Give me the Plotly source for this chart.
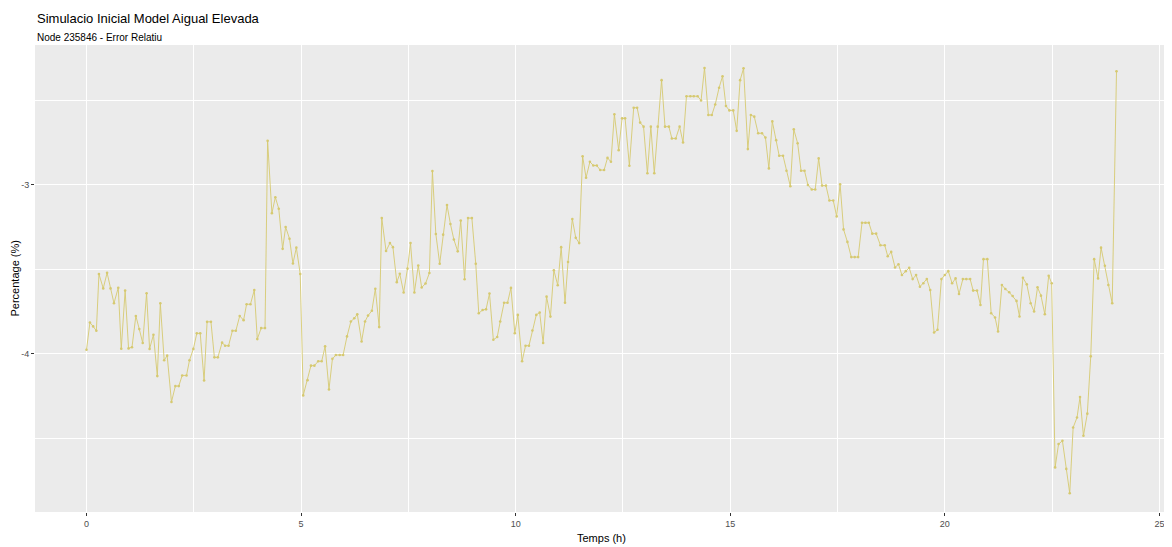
import plotly.graph_objects as go

# Time (h) and relative error (%)
temps = [
    0.00, 0.08, 0.155, 0.23, 0.29, 0.39, 0.48, 0.56, 0.64, 0.74, 0.81, 0.90, 0.98, 1.06, 1.15, 1.23,
    1.31, 1.40, 1.47, 1.56, 1.65, 1.72, 1.81, 1.88, 1.98, 2.07, 2.15, 2.23, 2.33, 2.40, 2.49, 2.57,
    2.65, 2.74, 2.81, 2.90, 2.98, 3.06, 3.16, 3.23, 3.31, 3.40, 3.48, 3.57, 3.66, 3.73, 3.82, 3.91,
    3.98, 4.07, 4.16, 4.22, 4.32, 4.40, 4.48, 4.57, 4.64, 4.73, 4.81, 4.89, 4.98, 5.05, 5.15, 5.23,
    5.31, 5.40, 5.48, 5.56, 5.65, 5.73, 5.81, 5.90, 5.98,
    6.07, 6.16, 6.24, 6.31, 6.41, 6.49, 6.56, 6.65, 6.73, 6.82, 6.88, 6.98, 7.07, 7.14, 7.23, 7.30,
    7.39, 7.48, 7.55, 7.64, 7.73, 7.81, 7.90, 7.99, 8.06, 8.14, 8.23, 8.31, 8.40, 8.48, 8.56, 8.65,
    8.72, 8.81, 8.89, 8.98, 9.07, 9.14, 9.23, 9.31, 9.39, 9.48, 9.57, 9.64, 9.73, 9.81, 9.89, 9.98,
    10.05, 10.15, 10.23, 10.31, 10.39, 10.48, 10.56, 10.64, 10.72, 10.81, 10.89, 10.98, 11.06, 11.15,
    11.22, 11.32, 11.40, 11.48, 11.56, 11.64, 11.73, 11.81, 11.89, 11.97, 12.06, 12.14, 12.22,
    12.30, 12.40, 12.48, 12.55, 12.65, 12.75, 12.83, 12.90, 12.98, 13.07, 13.15, 13.23, 13.31, 13.40,
    13.48, 13.57, 13.64, 13.73, 13.82, 13.90, 13.98, 14.07, 14.15, 14.24, 14.32, 14.40, 14.49, 14.57,
    14.65, 14.74, 14.82, 14.90, 14.98, 15.07, 15.15, 15.23, 15.31, 15.41, 15.48, 15.56, 15.65, 15.74,
    15.82, 15.90, 15.98, 16.07, 16.14, 16.23, 16.31, 16.40, 16.48, 16.57, 16.65, 16.73, 16.81, 16.90,
    16.98, 17.06, 17.14, 17.23, 17.31, 17.40, 17.48, 17.56, 17.64, 17.73, 17.82, 17.90, 17.98, 18.07,
    18.15, 18.23, 18.31, 18.40,
    18.50, 18.60, 18.67, 18.75, 18.84, 18.92, 19.00, 19.09, 19.17, 19.25, 19.33, 19.42, 19.50, 19.58,
    19.66, 19.75, 19.83, 19.92, 20.00, 20.08, 20.17, 20.25, 20.33, 20.42, 20.50, 20.59, 20.66, 20.75,
    20.83, 20.90, 20.99, 21.08, 21.17, 21.24, 21.33, 21.41, 21.50, 21.58, 21.67, 21.74, 21.82, 21.91,
    22.00, 22.08, 22.16, 22.24, 22.33, 22.42, 22.49, 22.57, 22.65, 22.74, 22.83, 22.91, 22.99, 23.08,
    23.15, 23.23, 23.32, 23.40, 23.48, 23.57, 23.64, 23.73, 23.81, 23.90, 24.00,
]

error_relatiu = [
    -3.975, -3.814, -3.837, -3.863, -3.527, -3.612, -3.520, -3.612, -3.700, -3.608, -3.969, -3.625,
    -3.967, -3.960, -3.775, -3.853, -3.935, -3.641, -3.970, -3.886, -4.131, -3.700, -4.037, -4.010,
    -4.284, -4.190, -4.190, -4.127, -4.127, -4.037, -3.970, -3.878, -3.878, -4.157, -3.810, -3.810,
    -4.020, -4.020, -3.933, -3.951, -3.951, -3.863, -3.863, -3.775, -3.800, -3.706, -3.706, -3.622,
    -3.912, -3.847, -3.847, -2.739, -3.167, -3.073, -3.141, -3.378, -3.249, -3.318, -3.465, -3.371,
    -3.527, -4.245, -4.155, -4.069, -4.069, -4.043, -4.043, -3.955, -4.210, -4.029, -4.006, -4.006,
    -4.006,
    -3.896, -3.808, -3.789, -3.765, -3.926, -3.808, -3.773, -3.744, -3.614, -3.841, -3.196, -3.391,
    -3.344, -3.368, -3.575, -3.526, -3.636, -3.495, -3.344, -3.636, -3.477, -3.607, -3.583, -3.521,
    -2.918, -3.290, -3.466, -3.294, -3.119, -3.231, -3.323, -3.393, -3.211, -3.558, -3.196, -3.196,
    -3.466, -3.759, -3.740, -3.736, -3.642, -3.916, -3.900, -3.808, -3.697, -3.697, -3.609, -3.877,
    -3.769, -4.043, -3.951, -3.951, -3.861, -3.769, -3.755, -3.935, -3.661, -3.779, -3.505, -3.593,
    -3.368, -3.697, -3.456, -3.202, -3.313, -3.344, -2.830, -2.957, -2.863, -2.885, -2.885, -2.912,
    -2.912, -2.840, -2.863,
    -2.582, -2.794, -2.606, -2.606, -2.886, -2.543, -2.543, -2.631, -2.655, -2.931, -2.655, -2.931,
    -2.655, -2.380, -2.655, -2.655, -2.725, -2.725, -2.655, -2.749, -2.475, -2.475, -2.475, -2.475,
    -2.500, -2.308, -2.586, -2.586, -2.524, -2.425, -2.357, -2.533, -2.559, -2.559, -2.680, -2.380,
    -2.310, -2.788, -2.586, -2.596, -2.694, -2.694, -2.720, -2.902, -2.624, -2.735, -2.827, -2.827,
    -2.916, -3.008, -2.671, -2.753, -2.916, -2.916, -3.000, -3.027, -3.027, -2.843, -3.004, -3.004,
    -3.092, -3.092, -3.186, -2.996, -3.263, -3.337, -3.427, -3.427, -3.427, -3.224, -3.224, -3.224,
    -3.288, -3.288,
    -3.357, -3.357, -3.422, -3.396, -3.488, -3.469, -3.533, -3.510, -3.490, -3.557, -3.533, -3.602,
    -3.582, -3.557, -3.622, -3.873, -3.857, -3.557, -3.533, -3.510, -3.582, -3.553, -3.645, -3.557,
    -3.557, -3.557, -3.625, -3.625, -3.710, -3.439, -3.439, -3.759, -3.784, -3.867, -3.592, -3.616,
    -3.635, -3.657, -3.686, -3.778, -3.549, -3.588, -3.700, -3.749, -3.606, -3.655, -3.765, -3.537,
    -3.582, -4.671, -4.533, -4.514, -4.680, -4.824, -4.435, -4.376, -4.255, -4.484, -4.353, -4.014,
    -3.439, -3.553, -3.371, -3.478, -3.592, -3.700, -2.327,
]

x_ticks = [0, 5, 10, 15, 20, 25]
y_ticks = [-3, -4]

LINE_COLOR = "#D6C970"
FONT = "Liberation Sans, Arial, sans-serif"

fig = go.Figure()
fig.add_trace(go.Scatter(
    x=temps, y=error_relatiu, mode="lines+markers",
    line=dict(color=LINE_COLOR, width=0.9),
    marker=dict(color=LINE_COLOR, size=2.6),
    hoverinfo="x+y", showlegend=False,
))

axis_common = dict(
    automargin=False,
    showgrid=True, gridcolor="white", gridwidth=1.1,
    zeroline=False, showline=False,
    ticks="outside", ticklen=3, tickwidth=1, tickcolor="#333333",
    tickfont=dict(family=FONT, size=9, color="#4D4D4D"),
)

# The page body has an 8px default margin, so the figure is sized to fit inside it.
fig.update_layout(
    width=1164, height=539,
    margin=dict(l=27, r=4, t=37, b=35),
    paper_bgcolor="white", plot_bgcolor="#EBEBEB",
    font=dict(family=FONT, color="#000000"),
    xaxis=dict(
        range=[-1.2, 25.2], tickvals=x_ticks, ticktext=[str(v) for v in x_ticks],
        minor=dict(tickvals=[2.5, 7.5, 12.5, 17.5, 22.5], showgrid=True,
                   gridcolor="white", gridwidth=0.5, ticks=""),
        **axis_common,
    ),
    yaxis=dict(
        range=[-4.935, -2.172], tickvals=y_ticks, ticktext=[str(v) for v in y_ticks],
        minor=dict(tickvals=[-2.5, -3.5, -4.5], showgrid=True,
                   gridcolor="white", gridwidth=0.5, ticks=""),
        **axis_common,
    ),
    annotations=[
        dict(text="Simulacio Inicial Model Aigual Elevada", xref="paper", yref="paper",
             x=0, y=1 + 27 / 467, xanchor="left", yanchor="middle", showarrow=False,
             font=dict(family=FONT, size=13, color="#000000")),
        dict(text="Node 235846 - Error Relatiu", xref="paper", yref="paper",
             x=0, y=1 + 8 / 467, xanchor="left", yanchor="middle", showarrow=False,
             font=dict(family=FONT, size=10, color="#000000")),
        dict(text="Temps (h)", xref="paper", yref="paper",
             x=0.5, y=-26 / 467, xanchor="center", yanchor="middle", showarrow=False,
             font=dict(family=FONT, size=11, color="#000000")),
        dict(text="Percentage (%)", xref="paper", yref="paper", textangle=-90,
             x=-21 / 1133, y=0.5, xanchor="center", yanchor="middle", showarrow=False,
             font=dict(family=FONT, size=11, color="#000000")),
    ],
)

fig.write_html("out.html")
